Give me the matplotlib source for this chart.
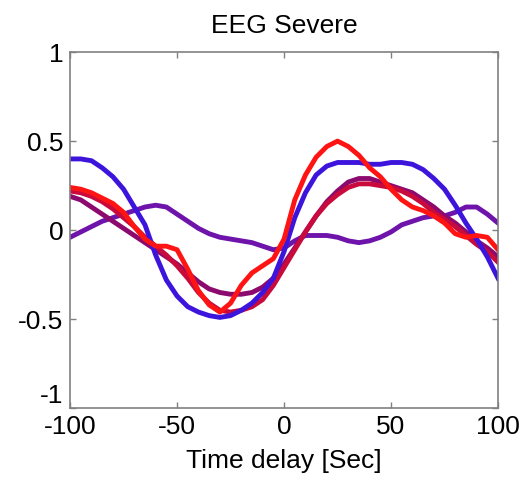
import numpy as np
import matplotlib.pyplot as plt

plt.rcParams['font.family'] = ['Liberation Sans', 'DejaVu Sans']

# time delay axis (sec)
delay = list(range(-100, 101, 5))

blue = [0.40, 0.40, 0.39, 0.35, 0.30, 0.23, 0.13, 0.03, -0.14, -0.28,
        -0.37, -0.43, -0.46, -0.48, -0.49, -0.48, -0.45, -0.41, -0.35, -0.27,
        -0.12, 0.07, 0.21, 0.31, 0.36, 0.38, 0.38, 0.38, 0.37, 0.37,
        0.38, 0.38, 0.37, 0.34, 0.29, 0.23, 0.14, 0.04, -0.05, -0.15, -0.27]

red = [0.24, 0.23, 0.21, 0.18, 0.15, 0.10, 0.02, -0.05, -0.09, -0.09,
       -0.11, -0.22, -0.34, -0.42, -0.46, -0.41, -0.31, -0.24, -0.20, -0.16,
       -0.05, 0.17, 0.31, 0.41, 0.47, 0.50, 0.47, 0.42, 0.35, 0.30,
       0.23, 0.17, 0.13, 0.11, 0.08, 0.04, -0.02, -0.04, -0.03, -0.04, -0.11]

violet = [-0.04, -0.01, 0.02, 0.05, 0.07, 0.09, 0.11, 0.13, 0.14, 0.13,
          0.09, 0.05, 0.01, -0.02, -0.04, -0.05, -0.06, -0.07, -0.09, -0.11,
          -0.10, -0.06, -0.03, -0.03, -0.03, -0.04, -0.06, -0.07, -0.06, -0.04,
          -0.01, 0.03, 0.05, 0.07, 0.08, 0.08, 0.10, 0.13, 0.13, 0.09, 0.04]

plum = [0.19, 0.17, 0.13, 0.09, 0.05, 0.01, -0.03, -0.07, -0.11, -0.15,
        -0.19, -0.24, -0.29, -0.33, -0.35, -0.36, -0.36, -0.35, -0.32, -0.27,
        -0.19, -0.10, -0.01, 0.08, 0.16, 0.22, 0.27, 0.29, 0.29, 0.27,
        0.25, 0.23, 0.21, 0.17, 0.13, 0.08, 0.04, -0.01, -0.06, -0.10, -0.15]

crimson = [0.22, 0.21, 0.19, 0.16, 0.12, 0.07, 0.02, -0.04, -0.09, -0.14,
           -0.20, -0.27, -0.35, -0.41, -0.45, -0.46, -0.45, -0.43, -0.39, -0.31,
           -0.21, -0.11, -0.01, 0.08, 0.15, 0.20, 0.24, 0.26, 0.26, 0.25,
           0.24, 0.22, 0.19, 0.15, 0.10, 0.06, 0.02, -0.03, -0.08, -0.12, -0.18]

x = np.array(delay)

fig = plt.figure(figsize=(5.27, 4.78), dpi=100)
ax = fig.add_axes([0.133, 0.146, 0.812, 0.745])

ax.plot(x, violet, color='#6e14aa', lw=3.5)
ax.plot(x, plum, color='#8c0a6e', lw=3.5)
ax.plot(x, crimson, color='#c80a3c', lw=3.5)
ax.plot(x, blue, color='#3c14dc', lw=3.5)
ax.plot(x, red, color='#ff1414', lw=3.5)

ax.set_xlim(-100, 100)
ax.set_ylim(-1, 1)
ax.set_xticks([-100, -50, 0, 50, 100])
ax.set_xticklabels(['-100', '-50', '0', '50', '100'])
ax.set_yticks([-1, -0.5, 0, 0.5, 1])
ax.set_yticklabels(['-1', '-0.5', '0', '0.5', '1'])
ax.tick_params(direction='in', length=4, width=1, color='#808080',
               top=True, right=True, labelsize=19, pad=5)
for s in ax.spines.values():
    s.set_color('#808080')
    s.set_linewidth(1.2)

# nudge the -1 label up a little so it doesn't sit on top of -100
ax.get_yticklabels()[0].set_va('bottom')

ax.set_xlabel("Time delay [Sec]", fontsize=19, labelpad=7)
ax.set_title("EEG Severe", fontsize=19, pad=14)

plt.savefig("out.png", dpi=100)
